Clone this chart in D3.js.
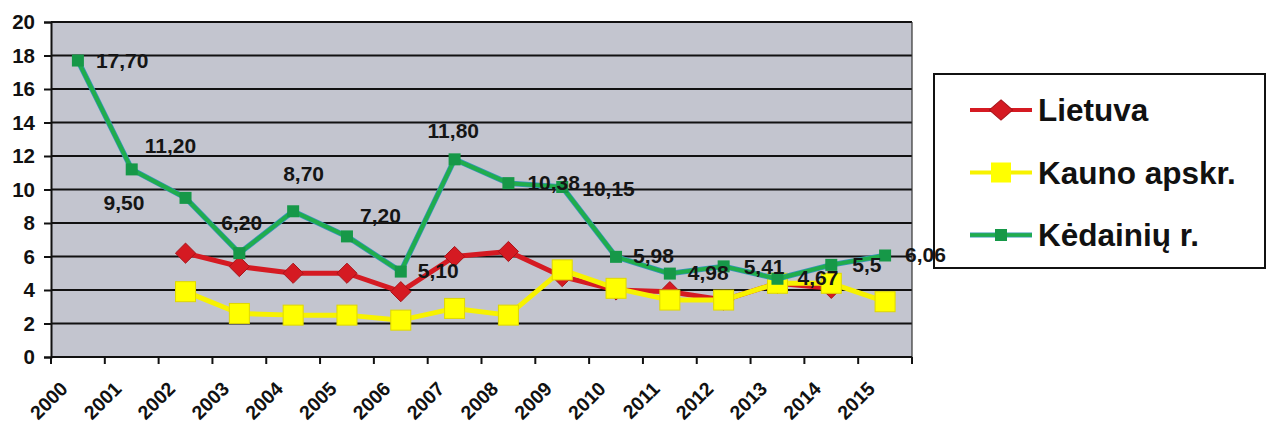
<!DOCTYPE html>
<html>
<head>
<meta charset="utf-8">
<script src="https://cdn.jsdelivr.net/npm/d3@7"></script>
<style>
  html, body { margin: 0; padding: 0; background: #fff; }
  svg { display: block; font-family: "Liberation Sans", Arial, sans-serif; font-weight: bold; }
</style>
</head>
<body>
<svg id="chart" width="1268" height="423"></svg>
<script>
const YEARS = ["2000","2001","2002","2003","2004","2005","2006","2007","2008","2009","2010","2011","2012","2013","2014","2015"];
const Y_TICKS = [0, 2, 4, 6, 8, 10, 12, 14, 16, 18, 20];

const SERIES_NAMES = ["Lietuva", "Kauno apskr.", "Kėdainių r."];

// null = no value for that year
const LIETUVA = [null, null, 6.2, 5.4, 5.0, 5.0, 3.9, 6.0, 6.3, 4.8, 4.0, 3.9, 3.4, 4.4, 4.1, null];
const KAUNO = [null, null, 3.9, 2.6, 2.5, 2.5, 2.2, 2.9, 2.5, 5.2, 4.1, 3.4, 3.4, 4.4, 4.4, 3.3];
const KEDAINIU = [17.70, 11.20, 9.50, 6.20, 8.70, 7.20, 5.10, 11.80, 10.38, 10.15, 5.98, 4.98, 5.41, 4.67, 5.5, 6.06];
const KEDAINIU_LABELS = ["17,70","11,20","9,50","6,20","8,70","7,20","5,10","11,80","10,38","10,15","5,98","4,98","5,41","4,67","5,5","6,06"];

// where each Kėdainių label sits relative to its point (left edge, vertical middle)
const LABEL_OFFSETS = [
  [18, 0], [13, -24], [-82, 5], [-18, -31], [-10, -38], [13, -21], [17, -1], [-27, -29],
  [19, -1], [20, 1], [17, -1], [18, -1], [20, 0], [20, -1], [21, 0], [20, -1]
];

const COLORS = { red: "#d51a22", yellow: "#f7f200", green: "#20ad4c", greenEdge: "#3596b8" };

const svg = d3.select("#chart");
const plotLeft = 51, plotRight = 912, plotTop = 22, plotBottom = 357;

const x = d3.scaleBand().domain(YEARS).range([plotLeft, plotRight]).padding(0);
const y = d3.scaleLinear().domain([0, 20]).range([plotBottom, plotTop]);
const cx = (d) => x(d) + x.bandwidth() / 2;

// plot background
svg.append("rect")
  .attr("x", plotLeft).attr("y", plotTop)
  .attr("width", plotRight - plotLeft).attr("height", plotBottom - plotTop)
  .attr("fill", "#c3c5cf");

// gridlines
svg.append("g")
  .selectAll("line")
  .data(Y_TICKS.filter((t) => t > 0))
  .join("line")
  .attr("x1", plotLeft).attr("x2", plotRight)
  .attr("y1", (d) => y(d)).attr("y2", (d) => y(d))
  .attr("stroke", "#111").attr("stroke-width", 2);

// right border
svg.append("line")
  .attr("x1", plotRight).attr("x2", plotRight).attr("y1", plotTop).attr("y2", plotBottom)
  .attr("stroke", "#333").attr("stroke-width", 1.2);

// y axis
const yAxis = svg.append("g")
  .attr("transform", `translate(${plotLeft},0)`)
  .call(d3.axisLeft(y).tickValues(Y_TICKS).tickSize(7).tickPadding(9));
yAxis.select(".domain").attr("stroke", "#111").attr("stroke-width", 2);
yAxis.selectAll(".tick line").attr("stroke", "#111").attr("stroke-width", 2);
yAxis.selectAll(".tick text")
  .attr("fill", "#111").attr("font-size", 20.5).attr("font-weight", "bold")
  .attr("font-family", "Liberation Sans, Arial, sans-serif");

// x axis line + ticks at band edges
svg.append("line")
  .attr("x1", plotLeft).attr("x2", plotRight).attr("y1", plotBottom).attr("y2", plotBottom)
  .attr("stroke", "#111").attr("stroke-width", 2);
svg.append("g")
  .selectAll("line")
  .data(YEARS.map((d) => x(d)).concat([x.range()[1]]))
  .join("line")
  .attr("x1", (d) => d).attr("x2", (d) => d)
  .attr("y1", plotBottom).attr("y2", plotBottom + 7)
  .attr("stroke", "#111").attr("stroke-width", 2);

svg.append("g")
  .selectAll("text")
  .data(YEARS)
  .join("text")
  .attr("transform", (d) => `translate(${cx(d) - 9},${plotBottom + 33}) rotate(-45)`)
  .attr("text-anchor", "end")
  .attr("font-size", 19.5)
  .attr("fill", "#111")
  .text((d) => d);

// series
const lineGen = d3.line().x((p) => cx(p.yr)).y((p) => y(p.v));

function drawLine(values, color, width) {
  const pts = YEARS.map((yr, i) => ({ yr, v: values[i] })).filter((p) => p.v != null);
  svg.append("path")
    .datum(pts)
    .attr("fill", "none")
    .attr("stroke", color)
    .attr("stroke-width", width)
    .attr("stroke-linejoin", "round")
    .attr("d", lineGen);
  return pts;
}

const diamond = d3.symbol().type(d3.symbolDiamond2).size(260);

const redPts = drawLine(LIETUVA, COLORS.red, 5);
svg.append("g").selectAll("path").data(redPts).join("path")
  .attr("d", diamond)
  .attr("transform", (p) => `translate(${cx(p.yr)},${y(p.v)})`)
  .attr("fill", COLORS.red).attr("stroke", "#a8141a").attr("stroke-width", 1);

const yellowPts = drawLine(KAUNO, COLORS.yellow, 5);
svg.append("g").selectAll("rect").data(yellowPts).join("rect")
  .attr("x", (p) => cx(p.yr) - 10).attr("y", (p) => y(p.v) - 10)
  .attr("width", 20).attr("height", 20)
  .attr("fill", "#ffff00").attr("stroke", "#e0d800").attr("stroke-width", 1);

drawLine(KEDAINIU, COLORS.greenEdge, 5.5);
const greenPts = drawLine(KEDAINIU, COLORS.green, 4);
svg.append("g").selectAll("rect").data(greenPts).join("rect")
  .attr("x", (p) => cx(p.yr) - 6).attr("y", (p) => y(p.v) - 6)
  .attr("width", 12).attr("height", 12)
  .attr("fill", "#169848");

// data labels
svg.append("g")
  .selectAll("text")
  .data(YEARS)
  .join("text")
  .attr("x", (d, i) => cx(d) + LABEL_OFFSETS[i][0])
  .attr("y", (d, i) => y(KEDAINIU[i]) + LABEL_OFFSETS[i][1])
  .attr("dy", "0.36em")
  .attr("font-size", 21)
  .attr("fill", "#151515")
  .text((d, i) => KEDAINIU_LABELS[i]);

// legend
const legend = svg.append("g");
legend.append("rect")
  .attr("x", 934).attr("y", 74).attr("width", 331).attr("height", 194)
  .attr("fill", "none").attr("stroke", "#111").attr("stroke-width", 2);

const legendRows = [
  { name: SERIES_NAMES[0], color: COLORS.red, marker: "diamond" },
  { name: SERIES_NAMES[1], color: COLORS.yellow, marker: "bigsq" },
  { name: SERIES_NAMES[2], color: COLORS.green, marker: "smallsq" },
];
legendRows.forEach((r, i) => {
  const ly = 110 + i * 62.5;
  const g = legend.append("g").attr("transform", `translate(0,${ly})`);
  if (r.marker === "smallsq") {
    g.append("line").attr("x1", 970).attr("x2", 1032).attr("y1", 0).attr("y2", 0)
      .attr("stroke", COLORS.greenEdge).attr("stroke-width", 5);
  }
  g.append("line").attr("x1", 970).attr("x2", 1032).attr("y1", 0).attr("y2", 0)
    .attr("stroke", r.color).attr("stroke-width", r.marker === "smallsq" ? 3.5 : 4);
  if (r.marker === "diamond") {
    g.append("path").attr("d", diamond)
      .attr("transform", "translate(1001,0) scale(1.15,1)")
      .attr("fill", COLORS.red).attr("stroke", "#a8141a");
  } else if (r.marker === "bigsq") {
    g.append("rect").attr("x", 991).attr("y", -10).attr("width", 20).attr("height", 20)
      .attr("fill", "#ffff00");
  } else {
    g.append("rect").attr("x", 995).attr("y", -6).attr("width", 12).attr("height", 12)
      .attr("fill", "#169848");
  }
  g.append("text")
    .attr("x", 1038).attr("y", 0).attr("dy", "0.36em")
    .attr("font-size", 31.5).attr("fill", "#111")
    .text(r.name);
});
</script>
</body>
</html>
